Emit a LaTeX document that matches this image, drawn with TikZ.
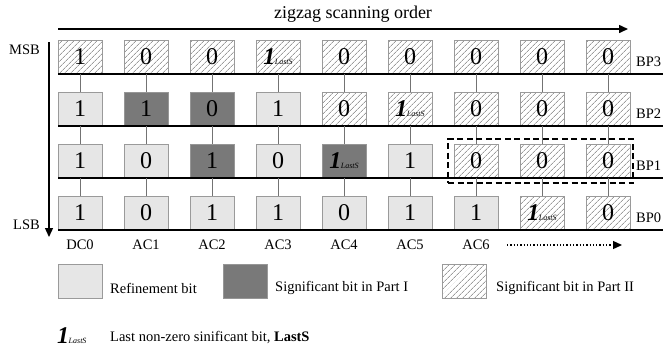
\documentclass[tikz,border=0pt]{standalone}
\usepackage{fontspec}
\setmainfont{Liberation Serif}
\usetikzlibrary{patterns.meta,arrows.meta}
\newcommand\LastSym{{\fontsize{24}{24}\selectfont\bfseries\itshape 1}\kern-0.5pt{\fontsize{8}{8}\selectfont\itshape LastS}}
\definecolor{lightcell}{HTML}{E6E6E6}
\definecolor{cellborder}{HTML}{9A9A9A}
\definecolor{darkcell}{HTML}{7A7A7A}
\tikzset{
  cell/.style={draw=cellborder, line width=0.8pt, minimum width=44pt, minimum height=34pt, inner sep=0pt,
    font=\fontsize{24}{24}\selectfont},
  refb/.style={cell, fill=lightcell},
  sigone/.style={cell, fill=darkcell, postaction={pattern={Dots[radius=0.35pt,distance=2pt]}, pattern color=black!55}},
  sigtwo/.style={cell, fill=white, pattern={Lines[angle=45,distance=4pt,line width=0.5pt]}, pattern color=black!60},
  bpline/.style={line width=1.3pt},
  conn/.style={draw=black!55, line width=0.7pt},
  lbl/.style={font=\fontsize{14.5}{14.5}\selectfont, inner sep=0pt},
}
\begin{document}
\begin{tikzpicture}[x=1pt,y=-1pt]
\useasboundingbox (0,0) rectangle (663,349);
% title and arrow
\node[font=\fontsize{18}{18}\selectfont, inner sep=0pt] (title) at (353,14) {zigzag scanning order};
\coordinate (tA) at (58,29);
\coordinate (tB) at (628,29);
\draw[line width=1.5pt, -{Triangle[length=9pt,width=8pt]}] (tA) -- (tB);
% MSB/LSB
\node[lbl, anchor=east] (msb) at (40,50) {MSB};
\node[lbl, anchor=east] (lsb) at (40,225) {LSB};
\coordinate (vA) at (49,42);
\coordinate (vB) at (49,237);
\draw[line width=1.3pt, -{Triangle[length=9pt,width=8pt]}] (vA) -- (vB);
% cells
\foreach \r/\y/\bp/\spec in {
  0/57/BP3/{sigtwo/1,sigtwo/0,sigtwo/0,sigtwo/\LastSym,sigtwo/0,sigtwo/0,sigtwo/0,sigtwo/0,sigtwo/0},
  1/109/BP2/{refb/1,sigone/1,sigone/0,refb/1,sigtwo/0,sigtwo/\LastSym,sigtwo/0,sigtwo/0,sigtwo/0},
  2/161/BP1/{refb/1,refb/0,sigone/1,refb/0,sigone/\LastSym,refb/1,sigtwo/0,sigtwo/0,sigtwo/0},
  3/213/BP0/{refb/1,refb/0,refb/1,refb/1,refb/0,refb/1,refb/1,sigtwo/\LastSym,sigtwo/0}} {
  \foreach \st/\v [count=\i from 0] in \spec {
    \pgfmathsetmacro\xc{80+66*\i}
    \node[\st] (c-\r-\i) at (\xc,\y) {\v};
  }
  \coordinate (L-\r) at (58,\y+17);
  \coordinate (R-\r) at (663,\y+17);
  \draw[bpline] (L-\r) -- (R-\r);
  \node[lbl, anchor=west] (bp-\r) at (636,\y+5) {\bp};
}
% connectors
\foreach \r [evaluate=\r as \n using int(\r+1)] in {0,1,2} {
  \foreach \i in {0,...,8} {
    \draw[conn] (c-\r-\i.south) -- (c-\n-\i.north);
  }
}
% dashed box
\node[draw, dash pattern=on 6pt off 3.5pt, line width=1.2pt, minimum width=185pt, minimum height=44pt, inner sep=0pt] (dbox) at (540.5,161) {};
% column labels
\foreach \t [count=\i from 0] in {DC0,AC1,AC2,AC3,AC4,AC5,AC6} {
  \pgfmathsetmacro\xc{80+66*\i}
  \node[lbl] (col-\i) at (\xc,245) {\t};
}
\coordinate (dA) at (507,245);
\coordinate (dB) at (622,245);
\draw[line width=1.3pt, dotted, -{Triangle[length=9pt,width=8pt]}] (dA) -- (dB);
% legend
\node[refb] (leg1) at (80,281) {};
\node[lbl, anchor=west] (leg1t) at (110,288) {Refinement bit};
\node[sigone] (leg2) at (245,281) {};
\node[lbl, anchor=west] (leg2t) at (275,288) {Significant bit in Part I};
\node[sigtwo] (leg3) at (464,281) {};
\node[lbl, anchor=west] (leg3t) at (496,288) {Significant bit in Part II};
\node[inner sep=0pt, anchor=west] (leg4) at (57,336) {\LastSym};
\node[lbl, anchor=west] (leg4t) at (110,338) {Last non-zero sinificant bit, \textbf{LastS}};
\end{tikzpicture}
\end{document}
